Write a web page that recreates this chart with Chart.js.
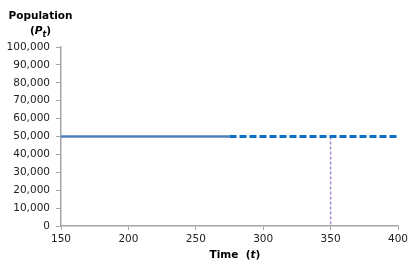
<!DOCTYPE html>
<html>
<head>
<meta charset="utf-8">
<script src="https://cdn.jsdelivr.net/npm/chart.js@4/dist/chart.umd.min.js"></script>
<style>
html,body{margin:0;padding:0;background:#fff;}
#wrap{position:relative;width:417px;height:268px;}
canvas{position:absolute;left:0;top:0;}
.t{position:absolute;font-family:"DejaVu Sans",Verdana,sans-serif;font-weight:bold;font-size:10.5px;color:#000;text-align:center;line-height:15px;white-space:nowrap;}
</style>
</head>
<body>
<div id="wrap">
<canvas id="c" width="417" height="268"></canvas>
<div class="t" style="left:0px;top:8px;width:81px;">Population<br>(<i>P<sub style="font-size:8px;line-height:0;">t</sub></i>)</div>
<div class="t" style="left:185px;top:247px;width:100px;">Time&nbsp;&nbsp;(<i>t</i>)</div>
</div>
<script>
const solidTime = [150, 275];
const solidPop = [50000, 50000];
const projTime = [275, 400];
const projPop = [50000, 50000];
const markerTime = [350, 350];
const markerPop = [50000, 0];
const xMin = 150, xMax = 400, xStep = 50;
const yMin = 0, yMax = 100000, yStep = 10000;

const pts = (xs, ys) => xs.map((x, i) => ({x: x, y: ys[i]}));

new Chart(document.getElementById('c'), {
  type: 'scatter',
  data: {
    datasets: [
      {data: pts(markerTime, markerPop), showLine: true, borderColor: '#a488cc', borderWidth: 1.5, borderDash: [3, 2], pointRadius: 0, order: 3},
      {data: pts(projTime, projPop), showLine: true, borderColor: '#0a6fc2', borderWidth: 3, borderDash: [7, 3], pointRadius: 0, order: 2},
      {data: pts(solidTime, solidPop), showLine: true, borderColor: '#4a7ebb', borderWidth: 2.5, pointRadius: 0, order: 1}
    ]
  },
  options: {
    responsive: false,
    animation: false,
    devicePixelRatio: 1,
    layout: {padding: {top: 47, right: 19, left: 0, bottom: 0}},
    plugins: {legend: {display: false}, tooltip: {enabled: false}},
    scales: {
      x: {
        type: 'linear', min: xMin, max: xMax,
        ticks: {stepSize: xStep, color: '#222', font: {family: 'DejaVu Sans', size: 10.5}, padding: 3, maxRotation: 0},
        grid: {drawOnChartArea: false, drawTicks: true, tickLength: 4, color: '#a6a6a6'},
        border: {color: '#a6a6a6', width: 1.5},
        afterFit: s => { s.height = 42; }
      },
      y: {
        min: yMin, max: yMax,
        ticks: {stepSize: yStep, color: '#222', font: {family: 'DejaVu Sans', size: 10.5}, padding: 6,
          callback: v => v.toLocaleString('en-US')},
        grid: {drawOnChartArea: false, drawTicks: true, tickLength: 5, color: '#a6a6a6'},
        border: {color: '#a6a6a6', width: 1.5},
        afterFit: s => { s.width = 61; }
      }
    }
  }
});
</script>
</body>
</html>
